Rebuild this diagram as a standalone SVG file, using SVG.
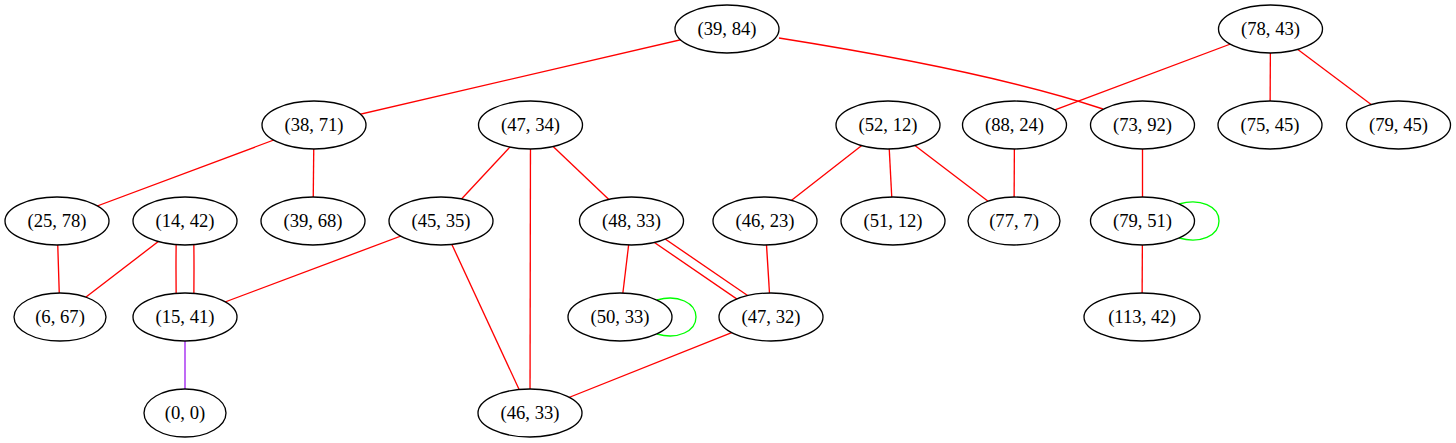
<svg xmlns="http://www.w3.org/2000/svg" width="1456" height="443" viewBox="0 0 1456 443">
<style>
.n ellipse{fill:#fff;stroke:#000;stroke-width:1.33}
.n text{font-family:"Liberation Serif","Times New Roman",serif;font-size:18.67px;text-anchor:middle;fill:#000}
#edges path{fill:none;stroke-width:1.33}
.r{stroke:#ff0000}
.g{stroke:#00ff00}
.p{stroke:#a020f0}
</style>
<rect width="1456" height="443" fill="#fff"/>
<g id="edges">
<path class="r" d="M727,29 L314,125"/>
<path class="r" d="M779,38 C880,54 1010,78 1103,109"/>
<path class="r" d="M1270.5,29 L1014.5,125"/>
<path class="r" d="M1270.5,29 L1270,125"/>
<path class="r" d="M1270.5,29 L1398.5,125"/>
<path class="r" d="M314,125 L57,221"/>
<path class="r" d="M314,125 L313,221"/>
<path class="r" d="M530.5,125 L441,221"/>
<path class="r" d="M530.5,125 L530,413"/>
<path class="r" d="M530.5,125 L631.5,221"/>
<path class="r" d="M888,125 L765,221"/>
<path class="r" d="M888,125 L893,221"/>
<path class="r" d="M888,125 L1014,221"/>
<path class="r" d="M1014.5,125 L1014,221"/>
<path class="r" d="M1142.5,125 L1142.5,221"/>
<path class="g" d="M1179,204 C1200,198 1219,206 1219,221 C1219,236 1200,244 1179,238"/>
<path class="r" d="M1142.5,221 L1142,317"/>
<path class="r" d="M57,221 L60,317"/>
<path class="r" d="M185,221 L60,317"/>
<path class="r" d="M176.5,221 Q175.5,269 176.5,317"/>
<path class="r" d="M193.5,221 Q194.5,269 193.5,317"/>
<path class="r" d="M441,221 L185,317"/>
<path class="r" d="M441,221 L530,413"/>
<path class="r" d="M631.5,221 L620,317"/>
<path class="r" d="M628.5,224.7 L768.5,320.7"/>
<path class="r" d="M633.5,217.3 L773.5,313.3"/>
<path class="g" d="M657,300 C678,294 696,303 696,317 C696,331 678,340 657,334"/>
<path class="r" d="M765,221 L771,317"/>
<path class="r" d="M771,317 L530,413"/>
<path class="p" d="M185,317 L185,413"/>
</g>
<g id="n39_84" class="n"><ellipse cx="727" cy="29" rx="52" ry="24"/><text x="727" y="35">(39, 84)</text></g>
<g id="n78_43" class="n"><ellipse cx="1270.5" cy="29" rx="52" ry="24"/><text x="1270.5" y="35">(78, 43)</text></g>
<g id="n38_71" class="n"><ellipse cx="314" cy="125" rx="52" ry="24"/><text x="314" y="131">(38, 71)</text></g>
<g id="n47_34" class="n"><ellipse cx="530.5" cy="125" rx="52" ry="24"/><text x="530.5" y="131">(47, 34)</text></g>
<g id="n52_12" class="n"><ellipse cx="888" cy="125" rx="52" ry="24"/><text x="888" y="131">(52, 12)</text></g>
<g id="n88_24" class="n"><ellipse cx="1014.5" cy="125" rx="52" ry="24"/><text x="1014.5" y="131">(88, 24)</text></g>
<g id="n73_92" class="n"><ellipse cx="1142.5" cy="125" rx="52" ry="24"/><text x="1142.5" y="131">(73, 92)</text></g>
<g id="n75_45" class="n"><ellipse cx="1270" cy="125" rx="52" ry="24"/><text x="1270" y="131">(75, 45)</text></g>
<g id="n79_45" class="n"><ellipse cx="1398.5" cy="125" rx="52" ry="24"/><text x="1398.5" y="131">(79, 45)</text></g>
<g id="n25_78" class="n"><ellipse cx="57" cy="221" rx="52" ry="24"/><text x="57" y="227">(25, 78)</text></g>
<g id="n14_42" class="n"><ellipse cx="185" cy="221" rx="52" ry="24"/><text x="185" y="227">(14, 42)</text></g>
<g id="n39_68" class="n"><ellipse cx="313" cy="221" rx="52" ry="24"/><text x="313" y="227">(39, 68)</text></g>
<g id="n45_35" class="n"><ellipse cx="441" cy="221" rx="52" ry="24"/><text x="441" y="227">(45, 35)</text></g>
<g id="n48_33" class="n"><ellipse cx="631.5" cy="221" rx="52" ry="24"/><text x="631.5" y="227">(48, 33)</text></g>
<g id="n46_23" class="n"><ellipse cx="765" cy="221" rx="52" ry="24"/><text x="765" y="227">(46, 23)</text></g>
<g id="n51_12" class="n"><ellipse cx="893" cy="221" rx="52" ry="24"/><text x="893" y="227">(51, 12)</text></g>
<g id="n77_7" class="n"><ellipse cx="1014" cy="221" rx="46" ry="24"/><text x="1014" y="227">(77, 7)</text></g>
<g id="n79_51" class="n"><ellipse cx="1142.5" cy="221" rx="52" ry="24"/><text x="1142.5" y="227">(79, 51)</text></g>
<g id="n6_67" class="n"><ellipse cx="60" cy="317" rx="46" ry="24"/><text x="60" y="323">(6, 67)</text></g>
<g id="n15_41" class="n"><ellipse cx="185" cy="317" rx="52" ry="24"/><text x="185" y="323">(15, 41)</text></g>
<g id="n50_33" class="n"><ellipse cx="620" cy="317" rx="52" ry="24"/><text x="620" y="323">(50, 33)</text></g>
<g id="n47_32" class="n"><ellipse cx="771" cy="317" rx="52" ry="24"/><text x="771" y="323">(47, 32)</text></g>
<g id="n113_42" class="n"><ellipse cx="1142" cy="317" rx="58" ry="24"/><text x="1142" y="323">(113, 42)</text></g>
<g id="n0_0" class="n"><ellipse cx="185" cy="413" rx="41" ry="24"/><text x="185" y="419">(0, 0)</text></g>
<g id="n46_33" class="n"><ellipse cx="530" cy="413" rx="52" ry="24"/><text x="530" y="419">(46, 33)</text></g>
</svg>
